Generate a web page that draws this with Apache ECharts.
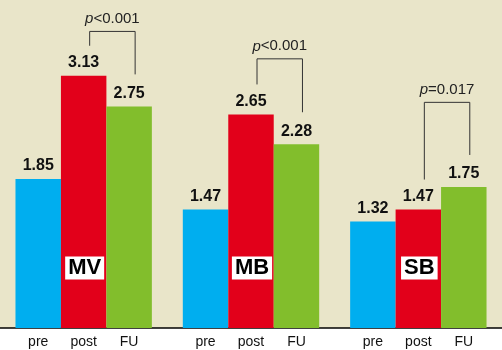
<!DOCTYPE html>
<html>
<head>
<meta charset="utf-8">
<script src="https://cdn.jsdelivr.net/npm/echarts@6/dist/echarts.min.js"></script>
<style>
  html, body { margin: 0; padding: 0; background: #ffffff; }
  #chart { width: 502px; height: 350px; }
</style>
</head>
<body>
<div id="chart"></div>
<script>
// Groups, time points and measured scores
var groups = ['MV', 'MB', 'SB'];
var timePoints = ['pre', 'post', 'FU'];
var preValues = [1.85, 1.47, 1.32];
var postValues = [3.13, 2.65, 1.47];
var fuValues = [2.75, 2.28, 1.75];
// post vs. FU comparison per group
var pTexts = ['<0.001', '<0.001', '=0.017'];
var bracketLevels = [3.68, 3.34, 2.80];

var colors = ['#00AEEF', '#E2001A', '#82BE2C'];
var boldFont = '"Liberation Sans", Arial, sans-serif';
var regular = '"Liberation Sans", Arial, sans-serif';
var categoryGap = 0.185;

// label under each bar, anchored at the baseline of its own bar
function bottomLabelItems(name) {
  return groups.map(function (g) {
    return {
      coord: [g, 0],
      label: {
        show: true,
        position: 'inside',
        offset: [0, 14],
        formatter: name,
        fontFamily: regular,
        fontSize: 14,
        color: '#111'
      }
    };
  });
}

// white group tag drawn inside the post bar
function tagItems() {
  return groups.map(function (g) {
    return {
      coord: [g, 0],
      label: {
        show: true,
        position: 'inside',
        offset: [1, -60],
        formatter: g,
        fontFamily: boldFont,
        fontWeight: 'bold',
        fontSize: 22,
        lineHeight: 23,
        color: '#000',
        backgroundColor: '#ffffff',
        padding: [0, 3, 0, 3]
      }
    };
  });
}

function barSeries(name, values, color, extraPoints) {
  return {
    name: name,
    type: 'bar',
    data: values,
    barGap: 0,
    barCategoryGap: (categoryGap * 100) + '%',
    itemStyle: { color: color },
    label: {
      show: true,
      position: 'top',
      distance: 5,
      fontFamily: boldFont,
      fontWeight: 'bold',
      fontSize: 16,
      color: '#111',
      formatter: function (p) { return p.value.toFixed(2); }
    },
    markPoint: {
      symbol: 'circle',
      symbolSize: 1,
      itemStyle: { color: 'transparent' },
      silent: true,
      animation: false,
      data: bottomLabelItems(name).concat(extraPoints || [])
    }
  };
}

// significance brackets between post and FU
var bracketSeries = {
  type: 'custom',
  silent: true,
  z: 5,
  data: groups.map(function (g, i) {
    return [i, postValues[i], fuValues[i], bracketLevels[i]];
  }),
  renderItem: function (params, api) {
    var idx = api.value(0);
    var band = api.size([1, 0])[0];
    var barW = band * (1 - categoryGap) / 3;
    var center = api.coord([idx, 0])[0];
    var xL = center + 6;
    var xR = center + barW + 6;
    var yPost = api.coord([idx, api.value(1)])[1];
    var yFu = api.coord([idx, api.value(2)])[1];
    var yTop = api.coord([idx, api.value(3)])[1];
    return {
      type: 'group',
      children: [
        {
          type: 'polyline',
          shape: { points: [[xL, yPost - 30], [xL, yTop], [xR, yTop], [xR, yFu - 32]] },
          style: { stroke: '#333', lineWidth: 1, fill: null }
        },
        {
          type: 'text',
          style: {
            x: (xL + xR) / 2,
            y: yTop - 5,
            text: '{i|p}' + pTexts[params.dataIndex],
            align: 'center',
            verticalAlign: 'bottom',
            fontFamily: regular,
            fontSize: 15,
            fill: '#222',
            rich: { i: { fontStyle: 'italic', fontFamily: regular, fontSize: 15, fill: '#222' } }
          }
        }
      ]
    };
  }
};

var chart = echarts.init(document.getElementById('chart'));
chart.setOption({
  animation: false,
  backgroundColor: '#ffffff',
  grid: {
    show: true,
    backgroundColor: '#E9E5C9',
    borderWidth: 0,
    left: -2,
    right: -4,
    top: 0,
    bottom: 22
  },
  xAxis: {
    type: 'category',
    data: groups,
    axisLine: { lineStyle: { color: '#000', width: 1.5 } },
    axisTick: { show: false },
    axisLabel: { show: false }
  },
  yAxis: {
    type: 'value',
    min: 0,
    max: 4.07,
    show: false,
    splitLine: { show: false }
  },
  series: [
    barSeries(timePoints[0], preValues, colors[0]),
    barSeries(timePoints[1], postValues, colors[1], tagItems()),
    barSeries(timePoints[2], fuValues, colors[2]),
    bracketSeries
  ]
});
</script>
</body>
</html>
